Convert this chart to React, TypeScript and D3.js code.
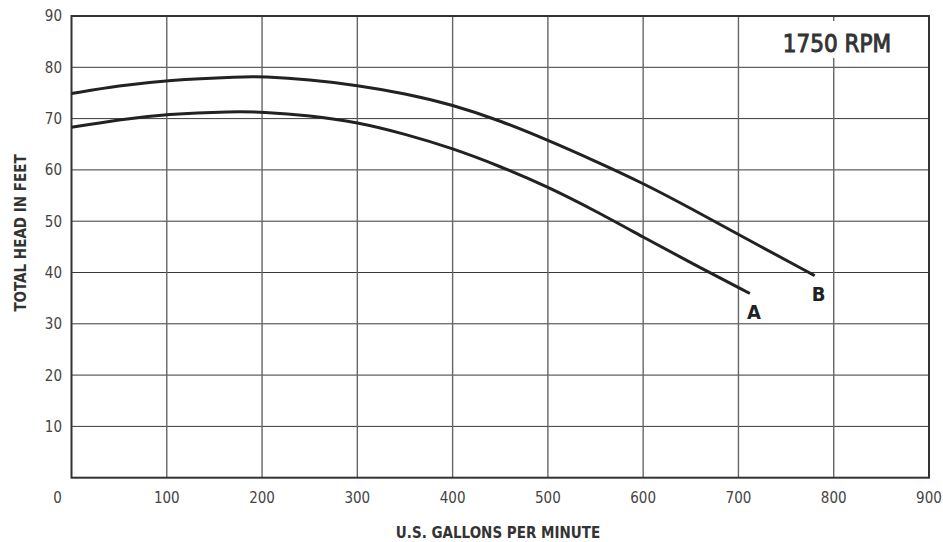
import React, { useRef, useEffect } from 'react';
import * as d3 from 'd3';

// pump curves (gpm, feet of head)
const curveAFlow = [0, 50, 100, 170, 200, 250, 300, 350, 400, 450, 500, 550, 600, 650, 712];
const curveAHead = [68.3, 69.8, 70.9, 71.4, 71.3, 70.6, 69.3, 67.0, 64.2, 60.7, 56.7, 52.0, 46.9, 41.9, 35.9];
const curveBFlow = [0, 50, 100, 180, 200, 250, 300, 350, 400, 450, 500, 550, 600, 650, 700, 780];
const curveBHead = [74.9, 76.4, 77.5, 78.2, 78.2, 77.6, 76.5, 74.9, 72.7, 69.6, 65.8, 61.7, 57.4, 52.5, 47.4, 39.4];

const xTicks = [0, 100, 200, 300, 400, 500, 600, 700, 800, 900];
const yTicks = [10, 20, 30, 40, 50, 60, 70, 80, 90];

const xTitle = 'U.S. GALLONS PER MINUTE';
const yTitle = 'TOTAL HEAD IN FEET';
const speedLabel = '1750 RPM';

const FONT = '"DejaVu Sans Condensed", "DejaVu Sans", sans-serif';

const App: React.FC = () => {
  const ref = useRef<SVGSVGElement | null>(null);

  useEffect(() => {
    if (!ref.current) return;

    const width = 943;
    const height = 542;
    const svg = d3.select(ref.current);
    svg.attr('width', width).attr('height', height);
    svg.selectAll('*').remove();

    const x = d3.scaleLinear().domain([0, 900]).range([71.5, 929]);
    const y = d3.scaleLinear().domain([0, 90]).range([477.7, 16]);

    // grid
    svg.append('g')
      .selectAll('line')
      .data(yTicks.filter(d => d < 90))
      .join('line')
      .attr('x1', x(0)).attr('x2', x(900))
      .attr('y1', d => y(d)).attr('y2', d => y(d))
      .attr('stroke', '#3a3a3a')
      .attr('stroke-width', 1);

    svg.append('g')
      .selectAll('line')
      .data(xTicks.filter(d => d > 0 && d < 900))
      .join('line')
      .attr('x1', d => x(d)).attr('x2', d => x(d))
      .attr('y1', y(0)).attr('y2', y(90))
      .attr('stroke', '#666')
      .attr('stroke-width', 1.4);

    // speed label with white backing
    svg.append('rect')
      .attr('x', 776).attr('y', 21)
      .attr('width', 124).attr('height', 37)
      .attr('fill', '#fff');
    svg.append('text')
      .attr('x', 837).attr('y', 52)
      .attr('text-anchor', 'middle')
      .attr('font-family', FONT)
      .attr('font-size', 24)
      .attr('fill', '#333')
      .attr('stroke', '#333')
      .attr('stroke-width', 0.9)
      .text(speedLabel);

    // frame
    svg.append('rect')
      .attr('x', x(0)).attr('y', y(90))
      .attr('width', x(900) - x(0)).attr('height', y(0) - y(90))
      .attr('fill', 'none')
      .attr('stroke', '#333')
      .attr('stroke-width', 2);

    // tick labels
    svg.append('g')
      .selectAll('text')
      .data(yTicks)
      .join('text')
      .attr('x', 62)
      .attr('y', d => y(d))
      .attr('dy', '0.36em')
      .attr('text-anchor', 'end')
      .attr('font-family', FONT)
      .attr('font-size', 15)
      .attr('fill', '#444')
      .text(d => d);

    svg.append('g')
      .selectAll('text')
      .data(xTicks)
      .join('text')
      .attr('x', d => (d === 0 ? x(d) - 14 : x(d)))
      .attr('y', 503)
      .attr('text-anchor', 'middle')
      .attr('font-family', FONT)
      .attr('font-size', 15)
      .attr('fill', '#444')
      .text(d => d);

    // axis titles
    svg.append('text')
      .attr('x', 498).attr('y', 538)
      .attr('text-anchor', 'middle')
      .attr('font-family', FONT)
      .attr('font-weight', 'bold')
      .attr('font-size', 15)
      .attr('fill', '#333')
      .text(xTitle);

    svg.append('text')
      .attr('transform', 'translate(26,233) rotate(-90)')
      .attr('text-anchor', 'middle')
      .attr('font-family', FONT)
      .attr('font-weight', 'bold')
      .attr('font-size', 15)
      .attr('fill', '#333')
      .text(yTitle);

    // curves
    const line = d3.line<[number, number]>()
      .x(d => x(d[0]))
      .y(d => y(d[1]))
      .curve(d3.curveBasis);

    const curves = [
      { name: 'A', pts: curveAFlow.map((f, i) => [f, curveAHead[i]] as [number, number]) },
      { name: 'B', pts: curveBFlow.map((f, i) => [f, curveBHead[i]] as [number, number]) },
    ];

    curves.forEach(c => {
      svg.append('path')
        .datum(c.pts)
        .attr('fill', 'none')
        .attr('stroke', '#222')
        .attr('stroke-width', 3)
        .attr('d', line);

      const end = c.pts[c.pts.length - 1];
      svg.append('text')
        .attr('x', x(end[0]) + 4)
        .attr('y', y(end[1]) + 25)
        .attr('text-anchor', 'middle')
        .attr('font-family', FONT)
        .attr('font-weight', 'bold')
        .attr('font-size', 20)
        .attr('fill', '#222')
        .text(c.name);
    });
  }, []);

  return <svg ref={ref} style={{ position: 'absolute', left: 0, top: 0 }}></svg>;
};

export default App;
